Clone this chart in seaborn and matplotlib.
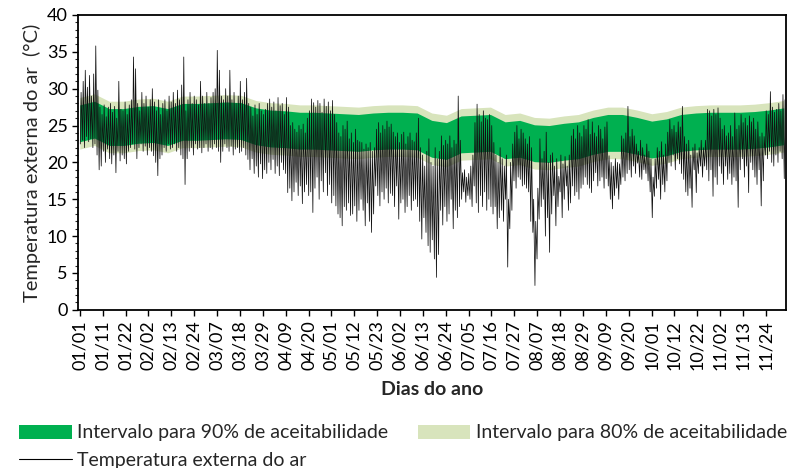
import numpy as np
import pandas as pd
import matplotlib
matplotlib.use("Agg")
import matplotlib.pyplot as plt
import seaborn as sns
from matplotlib.patches import Patch
from matplotlib.lines import Line2D
from matplotlib.ticker import MultipleLocator

# Daily minimum / maximum of outdoor air temperature (deg C), day 0 = 01/01
tmin = [
    22.5, 23.0, 22.0, 23.5, 22.8, 23.2, 22.0, 22.5, 21.0, 19.0,
    19.5, 21.5, 20.0, 21.8, 20.5, 19.8, 21.0, 18.6, 21.5, 20.2,
    21.0, 20.5, 19.8, 21.5, 22.0, 22.5, 21.8, 20.5, 22.0, 22.5,
    21.5, 22.2, 21.0, 22.0, 21.5, 20.9, 20.0, 18.2, 20.5, 21.0,
    22.0, 21.5, 22.5, 21.8, 22.0, 22.5, 21.5, 22.0, 21.0, 20.5,
    17.0, 20.5, 21.5, 22.0, 21.0, 22.5, 21.8, 22.0, 21.3, 22.0,
    22.5, 21.5, 22.0, 21.8, 22.5, 22.0, 21.5, 20.0, 21.5, 22.5,
    22.0, 21.5, 22.2, 21.0, 21.8, 22.0, 21.3, 21.5, 22.0, 21.0,
    20.4, 19.0, 20.5, 18.5, 19.5, 18.0, 19.8, 17.8, 19.0, 18.5,
    20.0, 19.0, 20.4, 18.5, 19.5, 18.2, 20.0, 19.0, 18.5, 15.9,
    16.5, 14.8, 16.0, 17.3, 15.5, 16.8, 14.4, 16.0, 17.0, 15.5,
    16.0, 13.2, 16.5, 18.0, 15.0, 17.5, 16.0, 18.6, 15.5, 17.0, 14.5, 15.5,
    14.1, 13.0, 12.5, 11.4, 14.0, 13.5, 14.5, 12.8, 13.0, 14.1, 12.0, 13.5,
    15.0, 13.5, 11.4, 14.5, 12.0, 10.5, 13.0,
    16.8, 15.5, 14.1, 16.0, 15.0, 16.5, 14.5, 15.8,
    15.5, 14.0, 16.8, 12.3, 14.5, 15.0, 13.2, 14.0, 15.5, 13.5, 14.8, 15.0,
    14.0, 12.0, 9.6, 12.5, 10.5, 8.7, 7.8, 9.5, 6.9, 4.4, 7.5,
    13.5, 11.5, 14.0, 12.0, 13.0, 15.0, 11.0, 13.5, 12.5, 14.0,
    15.0, 16.0, 14.6, 15.5, 15.0, 14.0,
    16.8, 14.5, 13.2, 15.5, 14.0, 16.0, 13.5, 15.0, 14.0,
    13.0, 14.0, 11.0, 12.5, 13.5, 12.0, 15.0, 5.8, 11.0, 13.5,
    17.5, 16.5, 18.0, 17.7, 16.8, 17.0, 16.5, 16.0, 12.0, 10.5,
    3.3, 6.9, 12.3, 14.0, 15.0, 10.0, 12.5, 7.8,
    13.0, 15.5, 11.4, 14.0, 16.0, 12.5, 15.0, 16.8, 13.5, 14.5,
    16.8, 15.5, 16.0, 15.0, 16.5, 17.0,
    18.0, 17.0, 16.5, 15.9, 17.5, 18.6, 16.8, 17.5, 18.0, 16.5, 17.8,
    16.8, 15.0, 13.7, 15.5, 16.5, 15.0,
    17.0, 18.0, 17.5, 18.5, 19.0, 18.0,
    19.5, 18.5, 19.9, 18.0, 17.7, 19.0, 18.5, 17.5, 16.0, 12.5,
    15.4, 16.5, 17.7, 15.0, 17.0, 16.0, 17.5,
    20.0, 19.5, 21.0, 19.0, 20.5, 19.8,
    18.5, 17.7, 16.0, 15.5, 16.5, 13.9,
    19.0, 15.9, 18.5, 19.5, 18.0, 19.5, 19.0,
    17.5, 19.0, 15.4, 18.0, 17.0, 19.5,
    18.5, 17.0, 19.5, 17.7, 18.5, 17.0, 18.0, 17.5,
    13.9, 19.0, 20.5, 18.0, 19.5, 15.9, 20.0, 19.0,
    18.0, 17.0, 19.0, 14.1, 17.5,
    21.0, 20.5, 21.5, 20.0, 19.5, 21.0, 20.0, 21.5, 20.5, 17.8,
]
tmax = [
    29.5, 31.0, 32.5, 30.2, 31.8, 29.0, 32.0, 35.8, 29.8, 27.5,
    26.5, 27.8, 26.2, 27.5, 28.0, 26.8, 27.6, 26.0, 31.0, 27.2,
    27.0, 28.2, 26.5, 27.8, 28.5, 34.3, 32.7, 28.0, 27.0, 29.5,
    28.0, 29.0, 27.5, 28.5, 30.0, 28.2, 27.0, 28.5, 26.5, 28.0,
    28.5, 27.0, 29.0, 28.2, 29.5, 28.0, 29.8, 28.5, 30.5, 34.3,
    27.0, 28.5, 29.5, 28.0, 29.0, 28.5, 27.8, 31.0, 29.0, 28.0,
    29.5, 28.0, 28.8, 29.5, 30.0, 35.2, 32.5, 29.0, 28.5, 30.0,
    29.0, 32.5, 28.5, 29.5, 28.0, 29.0, 31.0, 28.5, 29.5, 31.4,
    28.0, 27.5, 26.3, 27.8, 26.5, 28.0, 27.0, 26.5, 27.2, 28.0,
    28.6, 27.5, 28.2, 27.0, 28.8, 27.7, 28.0, 26.5, 28.8, 27.5,
    25.0, 25.4, 24.5, 24.1, 25.0, 24.5, 25.2, 24.0, 26.0, 27.0,
    28.6, 28.1, 27.5, 28.4, 28.0, 26.8, 28.6, 27.6, 28.2, 27.0, 28.4, 26.5,
    25.4, 24.0, 23.5, 25.0, 24.5, 25.6, 23.2, 24.0, 22.7, 24.5, 23.0, 22.8,
    22.7, 21.8, 22.5, 22.0, 22.7, 21.5, 22.0,
    24.5, 25.4, 24.0, 25.0, 24.5, 25.6, 24.8, 25.2,
    24.1, 23.5, 24.0, 22.7, 23.8, 24.1, 22.5, 23.5, 24.0, 23.0, 22.8, 24.0,
    26.0, 22.0, 21.0, 19.5, 21.5, 23.2, 20.0, 19.5, 22.0, 20.5, 21.5,
    23.6, 22.3, 23.0, 22.5, 23.6, 22.0, 23.0, 22.5, 29.0, 23.0,
    18.6, 19.0, 18.0, 18.5, 19.5, 21.0,
    25.4, 27.9, 26.5, 25.5, 27.0, 26.0, 25.8, 26.5, 25.0,
    22.7, 21.0, 20.0, 22.0, 20.5, 19.5, 21.0, 15.0, 20.0, 22.5,
    24.1, 25.0, 23.2, 24.5, 24.0, 23.2, 22.5, 23.5, 22.0, 15.0,
    12.0, 16.5, 23.2, 20.5, 21.5, 24.1, 20.0, 21.0,
    21.3, 19.5, 20.5, 18.1, 21.0, 19.8, 20.8, 19.5, 21.0, 23.6,
    24.5, 23.2, 25.0, 24.0, 23.5, 25.0,
    24.5, 25.8, 23.8, 25.5, 24.0, 23.5, 25.0, 24.5, 23.2, 24.8, 25.5,
    20.9, 20.0, 19.5, 20.5, 20.0, 19.8,
    23.6, 23.2, 24.0, 27.6, 23.5, 24.5,
    23.6, 22.5, 21.5, 23.0, 22.0, 21.0, 22.5, 21.5, 20.5, 18.0,
    20.5, 22.0, 21.5, 22.8, 21.0, 22.5, 24.1,
    25.8, 24.5, 25.0, 24.1, 25.5, 24.8,
    27.6, 23.5, 22.5, 23.0, 21.0, 22.0,
    22.5, 21.3, 22.0, 23.0, 22.0, 23.0, 27.2,
    27.0, 26.3, 27.2, 26.5, 27.4, 26.0,
    24.5, 25.0, 23.6, 24.0, 25.0, 23.5, 26.7, 24.5,
    25.0, 26.5, 25.4, 26.0, 25.0, 26.3, 25.5, 26.0,
    24.5, 25.5, 23.5, 24.0, 23.5,
    27.0, 26.5, 29.6, 27.5, 26.8, 27.2, 28.0, 27.0, 29.2, 28.5,
]

# Neutral (comfort) temperature, read weekly (days 0, 7, 14, ...)
comfort = [
    25.3, 25.8, 24.8, 24.8, 25.1, 25.2, 24.8, 25.5, 25.5, 25.6,
    25.7, 25.6, 24.9, 24.6, 24.5, 24.3, 24.3, 24.2, 24.1, 24.0,
    24.2, 24.3, 24.3, 24.2, 23.2, 22.9, 23.8, 23.9, 24.0, 23.0,
    23.2, 22.6, 22.5, 22.8, 23.0, 23.6, 24.0, 24.0, 23.6, 23.1,
    23.4, 24.0, 24.2, 24.3, 24.3, 24.3, 24.4, 24.6, 24.9,
]
half90 = 2.5
half80 = 3.5

tick_labels = [
    "01/01", "01/11", "01/22", "02/02", "02/13", "02/24", "03/07", "03/18",
    "03/29", "04/09", "04/20", "05/01", "05/12", "05/23", "06/02", "06/13",
    "06/24", "07/05", "07/16", "07/27", "08/07", "08/18", "08/29", "09/09",
    "09/20", "10/01", "10/12", "10/22", "11/02", "11/13", "11/24",
]

# hourly-style trace: min in the early morning, max in the afternoon
days = np.arange(len(tmax))
df = pd.DataFrame({
    "dia": np.column_stack([days + 0.25, days + 0.625]).ravel(),
    "temp": np.column_stack([tmin, tmax]).ravel(),
})
band = pd.DataFrame({"dia": np.arange(len(comfort)) * 7, "tn": comfort})

sns.set_style("ticks")
plt.rcParams["font.family"] = ["Lato", "DejaVu Sans"]

fig = plt.figure(figsize=(7.97, 4.68), dpi=100)
ax = fig.add_axes([0.098, 0.338, 0.888, 0.63])

ax.fill_between(band["dia"], band["tn"] - half80, band["tn"] + half80,
                color="#d8e4bc", lw=0, zorder=1)
ax.fill_between(band["dia"], band["tn"] - half90, band["tn"] + half90,
                color="#00b050", lw=0, zorder=2)
sns.lineplot(data=df, x="dia", y="temp", color="#111111", lw=0.55,
             estimator=None, sort=False, ax=ax, zorder=3)

ax.set_xlim(-0.8, len(tmax))
ax.set_ylim(0, 40)
ax.yaxis.set_major_locator(MultipleLocator(5))
ax.yaxis.set_minor_locator(MultipleLocator(1))
ax.set_xticks(np.arange(len(tick_labels)) * 262 / 24)
ax.set_xticklabels(tick_labels, rotation=90)
ax.tick_params(axis="both", labelsize=13, length=4, width=1, colors="black")
ax.tick_params(axis="y", which="minor", length=2.5, width=0.8)
for s in ax.spines.values():
    s.set_visible(True)
    s.set_linewidth(1.3)
    s.set_color("black")

ax.set_xlabel("Dias do ano", fontsize=14, fontweight="bold", labelpad=8)
ax.set_ylabel("Temperatura externa do ar  (°C)", fontsize=14.5, labelpad=4)

handles = [
    Patch(facecolor="#00b050", edgecolor="none",
          label="Intervalo para 90% de aceitabilidade"),
    Line2D([], [], color="black", lw=0.8, label="Temperatura externa do ar"),
    Patch(facecolor="#d8e4bc", edgecolor="none",
          label="Intervalo para 80% de aceitabilidade"),
]
fig.legend(handles=handles, ncol=2, loc="upper left", bbox_to_anchor=(0.024, 0.093),
           frameon=False, fontsize=14, handlelength=2.7, handleheight=0.75,
           handletextpad=0.3, columnspacing=1.5, labelspacing=0.55,
           borderaxespad=0, borderpad=0)

fig.savefig("out.png", dpi=100)
